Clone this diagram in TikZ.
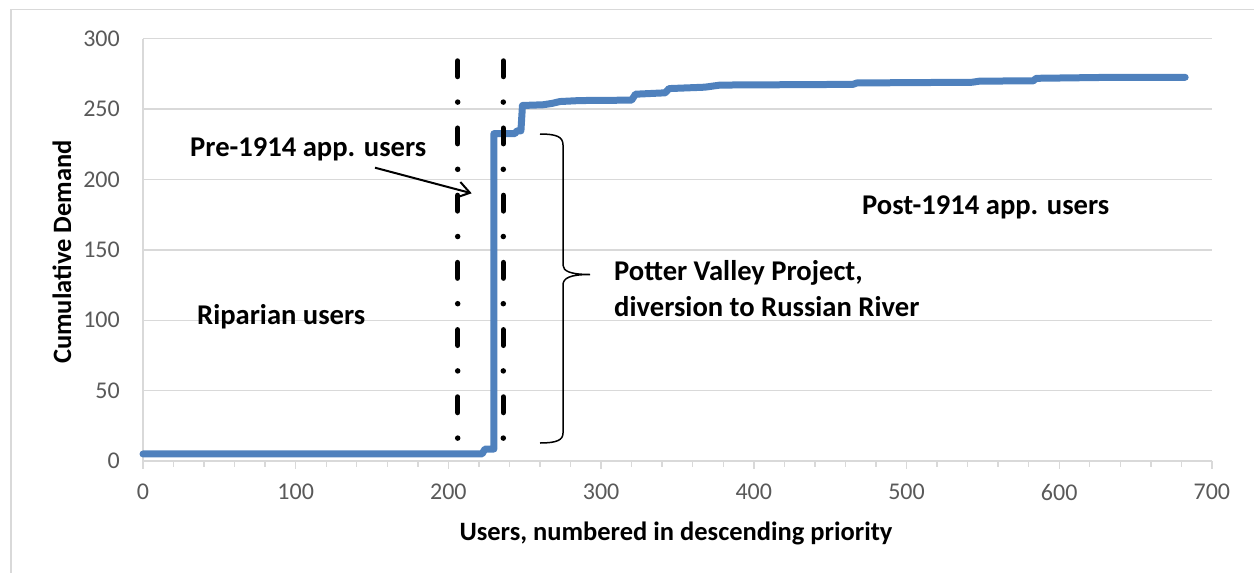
\documentclass[tikz,border=0pt]{standalone}
\usepackage{fontspec}
\setmainfont{Carlito}
\usetikzlibrary{arrows.meta}
\definecolor{gridgray}{HTML}{D9D9D9}
\definecolor{ticktext}{HTML}{595959}
\definecolor{seriesblue}{HTML}{4F81BD}
\begin{document}
\begin{tikzpicture}[x=1pt,y=-1pt,
  grid/.style={draw=gridgray,line width=1.4pt},
  ticklab/.style={text=ticktext,font=\fontsize{24}{28}\selectfont,inner sep=0pt},
  lbl/.style={font=\bfseries\fontsize{28.6}{34}\selectfont,inner sep=0pt},
  axtitle/.style={font=\bfseries\fontsize{26.5}{32}\selectfont,inner sep=0pt},
  marker/.style={line width=5.5pt,line cap=round,dash pattern=on 15.5pt off 25.6pt on 0pt off 26.1pt},
  series/.style={draw=seriesblue,line width=7pt,line join=round,line cap=round},
  bracestyle/.style={draw=black,line width=1.5pt}]
\useasboundingbox (0,0) rectangle (1254,573);
% chart frame (left and top edges)
\draw[draw=gridgray,line width=1.5pt] (11,575) -- (11,9.7) -- (1256,9.7);

% plot area in data coordinates
\begin{scope}[shift={(143,461)},x=1.527pt,y=1.408pt]
  \foreach \v in {50,100,...,300} \draw[grid] (0,\v) -- (700,\v);
  \draw[grid] (0,0) -- (0,300);
  \draw[grid] (0,0) -- (700,0);
  \foreach \x in {0,100,...,700} \draw[grid] (\x,0) -- ++(0pt,-7.5pt);
  \foreach \x in {20,40,...,680} \draw[grid] (\x,0) -- ++(0pt,-5.5pt);
  \foreach \v in {0,50,...,300}
    \node[ticklab,anchor=east] (ylab\v) at ([xshift=-23pt]0,\v) {\v};
  \foreach \x in {0,100,...,700}
    \node[ticklab] (xlab\x) at ([yshift=-31pt]\x,0) {\x};
  % cumulative demand curve
  \draw[series] (0,5) -- (222,5) -- (224,8.5) -- (229.8,8.5) -- (229.8,232.5)
    -- (243.5,232.5) -- (245,234.5) -- (247.5,234.5) -- (248.5,252.5)
    -- (262,253) -- (268,254) -- (273,255.3) -- (286,256) -- (320,256.3)
    -- (322.5,260.5) -- (342,261.5) -- (344.5,264.5) -- (368,265.5)
    -- (378,267) -- (465,267.5) -- (467.5,268.5) -- (543,269) -- (548,269.8)
    -- (583,270) -- (585,271.8) -- (635,272.5) -- (682.5,272.5);
\end{scope}

% group separators
\draw[marker] (457.7,61) -- (457.7,441);
\draw[marker] (503.3,61) -- (503.3,441);

% brace
\draw[bracestyle] (540,134) .. controls (557,134) and (563,137) .. (563,145)
  -- (563,265) .. controls (563,271) and (570,274.5) .. (590,274.5)
  .. controls (570,274.5) and (563,278) .. (563,285)
  -- (563,433) .. controls (563,440) and (557,443) .. (540,443);

% labels
\node[lbl,anchor=base west] (pre) at (190,156.7) {Pre-1914 app. users};
\node[lbl,anchor=base west] (rip) at (197,324) {Riparian users};
\node[lbl,anchor=base west] (post) at (862,214) {Post-1914 app. users};
\node[lbl,anchor=base west] (pvp1) at (614,280) {Potter Valley Project,};
\node[lbl,anchor=base west] (pvp2) at (614,316.7) {diversion to Russian River};
\node[axtitle,rotate=90] (ylabel) at (62,252) {Cumulative Demand};
\node[axtitle,anchor=base] (xlabel) at (676,540) {Users, numbered in descending priority};

% pointer to the pre-1914 group
\coordinate (ptail) at (375,167.7);
\coordinate (phead) at (471.7,193.3);
\draw[line width=2pt,-{Straight Barb[length=12pt,width=16pt]}] (ptail) -- (phead);
\end{tikzpicture}
\end{document}
